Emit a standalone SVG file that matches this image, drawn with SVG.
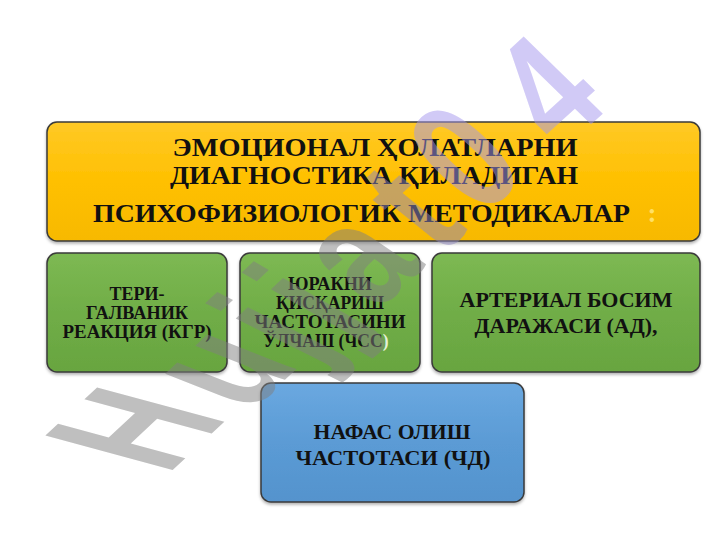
<svg xmlns="http://www.w3.org/2000/svg" width="720" height="540" viewBox="0 0 720 540">
<defs>
<linearGradient id="gY" x1="0" y1="0" x2="0" y2="1"><stop offset="0" stop-color="#FFC926"/><stop offset="0.5" stop-color="#FFC000"/><stop offset="1" stop-color="#F7B900"/></linearGradient>
<linearGradient id="gG" x1="0" y1="0" x2="0" y2="1"><stop offset="0" stop-color="#7DB953"/><stop offset="0.5" stop-color="#70AD47"/><stop offset="1" stop-color="#68A540"/></linearGradient>
<linearGradient id="gB" x1="0" y1="0" x2="0" y2="1"><stop offset="0" stop-color="#6AA8E0"/><stop offset="0.5" stop-color="#5B9BD5"/><stop offset="1" stop-color="#5493CD"/></linearGradient>
<filter id="sh" x="-5%" y="-5%" width="110%" height="115%"><feDropShadow dx="0" dy="2" stdDeviation="1.5" flood-color="#000" flood-opacity="0.3"/></filter>
</defs>
<style>
.box{stroke:#3a3a3a;stroke-width:1.5;filter:url(#sh)}
.t{font-family:"Liberation Serif","Times New Roman",serif;font-weight:bold;fill:#111;text-anchor:middle}
.wm{font-family:"Liberation Sans",Arial,sans-serif;font-weight:bold;font-size:100px;text-anchor:middle;opacity:0.5}
</style>
<rect width="720" height="540" fill="#fff"/>
<g id="connectors"></g>
<g id="title">
<rect class="box" x="47" y="122" width="653" height="119" rx="10" fill="url(#gY)"/>
<text class="t" font-size="26" x="375" y="156" textLength="405" lengthAdjust="spacingAndGlyphs">ЭМОЦИОНАЛ ҲОЛАТЛАРНИ</text>
<text class="t" font-size="26" x="374" y="184" textLength="408" lengthAdjust="spacingAndGlyphs">ДИАГНОСТИКА ҚИЛАДИГАН</text>
<text class="t" font-size="26" x="361.5" y="222" textLength="537" lengthAdjust="spacingAndGlyphs">ПСИХОФИЗИОЛОГИК МЕТОДИКАЛАР</text>
<text class="t" font-size="27" x="652" y="222" style="fill:#FFE066">:</text>
</g>
<g id="kgr">
<rect class="box" x="47" y="253" width="180" height="119" rx="10" fill="url(#gG)"/>
<text class="t" font-size="18" x="137" y="300">ТЕРИ-</text>
<text class="t" font-size="18" x="137" y="319" textLength="102" lengthAdjust="spacingAndGlyphs">ГАЛВАНИК</text>
<text class="t" font-size="18" x="137" y="338" textLength="149" lengthAdjust="spacingAndGlyphs">РЕАКЦИЯ (КГР)</text>
</g>
<g id="chss">
<rect class="box" x="240" y="253" width="180" height="119" rx="10" fill="url(#gG)"/>
<text class="t" font-size="18" x="330" y="290" textLength="84" lengthAdjust="spacingAndGlyphs">ЮРАКНИ</text>
<text class="t" font-size="18" x="330" y="309" textLength="108" lengthAdjust="spacingAndGlyphs">ҚИСҚАРИШ</text>
<text class="t" font-size="18" x="330" y="328" textLength="151" lengthAdjust="spacingAndGlyphs">ЧАСТОТАСИНИ</text>
<text class="t" font-size="18" x="326" y="347" textLength="125" lengthAdjust="spacingAndGlyphs">ЎЛЧАШ (ЧСС<tspan style="fill:#E4F0D8">)</tspan></text>
</g>
<g id="ad">
<rect class="box" x="432" y="253" width="268" height="119" rx="10" fill="url(#gG)"/>
<text class="t" font-size="22" x="566" y="307" textLength="213" lengthAdjust="spacingAndGlyphs">АРТЕРИАЛ БОСИМ</text>
<text class="t" font-size="22" x="566" y="333" textLength="183" lengthAdjust="spacingAndGlyphs">ДАРАЖАСИ (АД),</text>
</g>
<g id="chd">
<rect class="box" x="261" y="383" width="263" height="119" rx="10" fill="url(#gB)"/>
<text class="t" font-size="21" x="392" y="439" textLength="157" lengthAdjust="spacingAndGlyphs">НАФАС ОЛИШ</text>
<text class="t" font-size="21" x="393" y="465" textLength="195" lengthAdjust="spacingAndGlyphs">ЧАСТОТАСИ  (ЧД)</text>
</g>
<g id="watermark">
<text class="wm" fill="#808080" transform="matrix(0.88 -0.82 1.85 0.5 132 428)" x="0" y="36">H</text>
<text class="wm" fill="#808080" transform="matrix(0.88 -0.82 1.68 0.66 215 365)" x="0" y="36">u</text>
<text class="wm" fill="#808080" transform="matrix(0.88 -0.82 1.56 0.78 268 326)" x="0" y="36">j</text>
<text class="wm" fill="#808080" transform="matrix(0.88 -0.82 1.49 0.85 302 298)" x="0" y="36">j</text>
<text class="wm" fill="#808080" transform="matrix(0.88 -0.82 1.39 0.95 352 254)" x="0" y="36">a</text>
<text class="wm" fill="#9088c0" transform="matrix(0.88 -0.82 1.3 1.05 408 205)" x="0" y="36">t</text>
<text class="wm" fill="#a597ee" transform="matrix(0.88 -0.82 1.2 1.12 462 155)" x="0" y="36">0</text>
<text class="wm" fill="#a597ee" transform="matrix(0.9 -0.82 1.15 1.12 545 88)" x="0" y="36">4</text>
</g>
</svg>
